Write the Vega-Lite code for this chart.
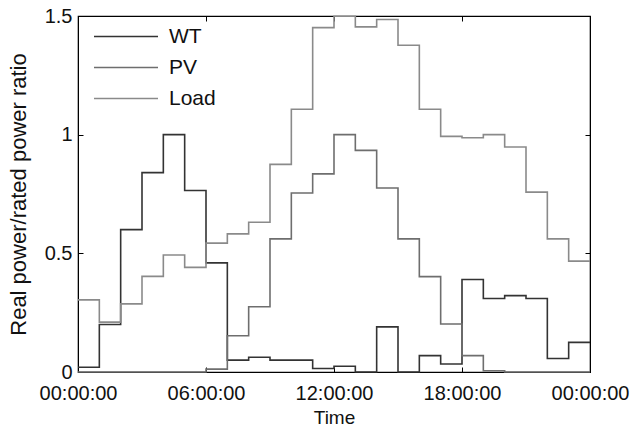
{
  "$schema": "https://vega.github.io/schema/vega-lite/v6.json",
  "autosize": "none",
  "width": 512,
  "height": 356,
  "padding": {"left": 78, "top": 16, "right": 44, "bottom": 60},
  "background": "white",
  "config": {
    "font": "Liberation Sans",
    "view": {"stroke": "black", "strokeWidth": 1.2},
    "axis": {"grid": false, "domainColor": "black", "tickColor": "black", "labelColor": "#111", "titleColor": "#111", "labelFontSize": 20, "titleFontSize": 19, "titleFontWeight": "normal", "labelFont": "Liberation Sans", "titleFont": "Liberation Sans", "labelFlush": false}
  },
  "data": {"values": [
    {"hour":0,"series":"WT","value":0.02},{"hour":1,"series":"WT","value":0.20},{"hour":2,"series":"WT","value":0.60},{"hour":3,"series":"WT","value":0.84},{"hour":4,"series":"WT","value":1.0},{"hour":5,"series":"WT","value":0.765},{"hour":6,"series":"WT","value":0.46},{"hour":7,"series":"WT","value":0.05},{"hour":8,"series":"WT","value":0.062},{"hour":9,"series":"WT","value":0.05},{"hour":10,"series":"WT","value":0.05},{"hour":11,"series":"WT","value":0.015},{"hour":12,"series":"WT","value":0.024},{"hour":13,"series":"WT","value":0.0},{"hour":14,"series":"WT","value":0.19},{"hour":15,"series":"WT","value":0.0},{"hour":16,"series":"WT","value":0.069},{"hour":17,"series":"WT","value":0.034},{"hour":18,"series":"WT","value":0.39},{"hour":19,"series":"WT","value":0.31},{"hour":20,"series":"WT","value":0.322},{"hour":21,"series":"WT","value":0.31},{"hour":22,"series":"WT","value":0.057},{"hour":23,"series":"WT","value":0.125},{"hour":24,"series":"WT","value":0.125},
    {"hour":0,"series":"PV","value":0},{"hour":1,"series":"PV","value":0},{"hour":2,"series":"PV","value":0},{"hour":3,"series":"PV","value":0},{"hour":4,"series":"PV","value":0},{"hour":5,"series":"PV","value":0},{"hour":6,"series":"PV","value":0.012},{"hour":7,"series":"PV","value":0.153},{"hour":8,"series":"PV","value":0.275},{"hour":9,"series":"PV","value":0.561},{"hour":10,"series":"PV","value":0.754},{"hour":11,"series":"PV","value":0.835},{"hour":12,"series":"PV","value":1.0},{"hour":13,"series":"PV","value":0.934},{"hour":14,"series":"PV","value":0.775},{"hour":15,"series":"PV","value":0.561},{"hour":16,"series":"PV","value":0.402},{"hour":17,"series":"PV","value":0.202},{"hour":18,"series":"PV","value":0.069},{"hour":19,"series":"PV","value":0.005},{"hour":20,"series":"PV","value":0},{"hour":21,"series":"PV","value":0},{"hour":22,"series":"PV","value":0},{"hour":23,"series":"PV","value":0},{"hour":24,"series":"PV","value":0},
    {"hour":0,"series":"Load","value":0.304},{"hour":1,"series":"Load","value":0.21},{"hour":2,"series":"Load","value":0.287},{"hour":3,"series":"Load","value":0.403},{"hour":4,"series":"Load","value":0.493},{"hour":5,"series":"Load","value":0.441},{"hour":6,"series":"Load","value":0.543},{"hour":7,"series":"Load","value":0.582},{"hour":8,"series":"Load","value":0.631},{"hour":9,"series":"Load","value":0.875},{"hour":10,"series":"Load","value":1.107},{"hour":11,"series":"Load","value":1.451},{"hour":12,"series":"Load","value":1.499},{"hour":13,"series":"Load","value":1.454},{"hour":14,"series":"Load","value":1.485},{"hour":15,"series":"Load","value":1.377},{"hour":16,"series":"Load","value":1.107},{"hour":17,"series":"Load","value":0.993},{"hour":18,"series":"Load","value":0.987},{"hour":19,"series":"Load","value":1.0},{"hour":20,"series":"Load","value":0.948},{"hour":21,"series":"Load","value":0.758},{"hour":22,"series":"Load","value":0.561},{"hour":23,"series":"Load","value":0.467},{"hour":24,"series":"Load","value":0.467}
  ]},
  "resolve": {"axis": {"x": "independent", "y": "independent"}},
  "layer": [
    {
      "mark": {"type": "line", "interpolate": "step-after", "strokeWidth": 1.6},
      "encoding": {
        "x": {"field": "hour", "type": "quantitative", "scale": {"domain": [0, 24], "nice": false, "zero": false},
          "axis": {"orient": "bottom", "values": [0, 6, 12, 18, 24], "tickSize": -5, "labelPadding": 16, "title": "Time", "titlePadding": 5,
            "labelExpr": "datum.value % 24 == 0 ? '00:00:00' : (datum.value < 10 ? '0' : '') + datum.value + ':00:00'"}},
        "y": {"field": "value", "type": "quantitative", "scale": {"domain": [0, 1.5], "nice": false},
          "axis": {"orient": "left", "values": [0, 0.5, 1, 1.5], "format": "~g", "tickSize": -5, "labelPadding": 11, "title": "Real power/rated power ratio", "titleFontSize": 22, "titlePadding": 14}},
        "color": {"field": "series", "type": "nominal",
          "scale": {"domain": ["WT", "PV", "Load"], "range": ["#333333", "#6e6e6e", "#8a8a8a"]},
          "legend": {"title": null, "orient": "none", "legendX": 15, "legendY": 5, "symbolType": "stroke", "symbolSize": 4096, "symbolStrokeWidth": 1.6, "labelFontSize": 21, "labelColor": "#111", "labelFont": "Liberation Sans", "rowPadding": 0, "clipHeight": 31, "labelOffset": 10}},
        "detail": {"field": "series"}
      }
    },
    {
      "mark": {"type": "line", "strokeOpacity": 0},
      "encoding": {
        "x": {"field": "hour", "type": "quantitative", "axis": {"orient": "top", "values": [0, 6, 12, 18, 24], "tickSize": -5, "labels": false, "title": null}},
        "y": {"field": "value", "type": "quantitative", "axis": {"orient": "right", "values": [0, 0.5, 1, 1.5], "tickSize": -5, "labels": false, "title": null}}
      }
    }
  ]
}
